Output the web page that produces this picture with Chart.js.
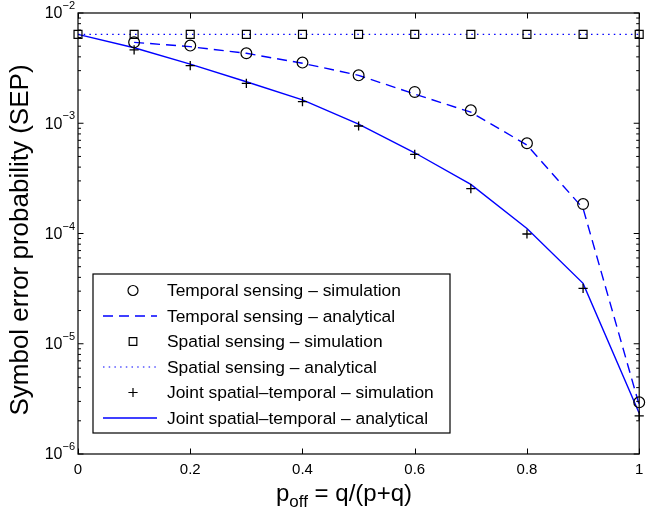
<!DOCTYPE html>
<html><head><meta charset="utf-8">
<script src="https://cdn.jsdelivr.net/npm/chart.js@4.4.0/dist/chart.umd.min.js"></script>
<style>html,body{margin:0;padding:0;background:#fff;}canvas{display:block;}</style>
</head><body>
<canvas id="c" width="646" height="516"></canvas>
<script>
const pOff = [0, 0.1, 0.2, 0.3, 0.4, 0.5, 0.6, 0.7, 0.8, 0.9, 1.0];
const temporalSim = [null, 5.42e-3, 5.06e-3, 4.31e-3, 3.55e-3, 2.72e-3, 1.92e-3, 1.31e-3, 6.58e-4, 1.85e-4, 2.94e-6];
const temporalAna = [null, 5.42e-3, 4.95e-3, 4.31e-3, 3.50e-3, 2.72e-3, 1.84e-3, 1.26e-3, 6.35e-4, 1.69e-4, 2.78e-6];
const spatialSim = [6.4e-3, 6.4e-3, 6.4e-3, 6.4e-3, 6.4e-3, 6.4e-3, 6.4e-3, 6.4e-3, 6.4e-3, 6.4e-3, 6.4e-3];
const spatialAna = [6.4e-3, 6.4e-3, 6.4e-3, 6.4e-3, 6.4e-3, 6.4e-3, 6.4e-3, 6.4e-3, 6.4e-3, 6.4e-3, 6.4e-3];
const jointSim = [null, 4.62e-3, 3.33e-3, 2.30e-3, 1.57e-3, 9.44e-4, 5.22e-4, 2.55e-4, 9.9e-5, 3.18e-5, 2.22e-6];
const jointAna = [6.4e-3, 4.84e-3, 3.44e-3, 2.38e-3, 1.63e-3, 9.8e-4, 5.4e-4, 2.79e-4, 1.11e-4, 3.53e-5, 2.34e-6];
const seriesLabels = [
  'Temporal sensing \u2013 simulation',
  'Temporal sensing \u2013 analytical',
  'Spatial sensing \u2013 simulation',
  'Spatial sensing \u2013 analytical',
  'Joint spatial\u2013temporal \u2013 simulation',
  'Joint spatial\u2013temporal \u2013 analytical'
];
const xTickValues = [0, 0.2, 0.4, 0.6, 0.8, 1];
const xTickLabels = ['0', '0.2', '0.4', '0.6', '0.8', '1'];
const yDecadeExps = [-6, -5, -4, -3, -2];
const yTitle = 'Symbol error probability (SEP)';
const xTitleMain = 'p';
const xTitleSub = 'off';
const xTitleRest = ' = q/(p+q)';

const FONT = '"Liberation Sans", Arial, Helvetica, sans-serif';
const BLUE = '#0000ff';

function pts(arr) { return pOff.map((x, i) => ({x: x, y: arr[i]})); }

const datasets = [
  {label: seriesLabels[0], data: pts(temporalSim), showLine: false, pointStyle: 'circle', pointRadius: 5.4, pointBorderColor: '#000', pointBackgroundColor: 'rgba(0,0,0,0)', pointBorderWidth: 1.2, order: 1},
  {label: seriesLabels[1], data: pts(temporalAna), showLine: true, borderColor: BLUE, borderWidth: 1.4, borderDash: [10, 6], pointRadius: 0, order: 4},
  {label: seriesLabels[2], data: pts(spatialSim), showLine: false, pointStyle: 'rect', pointRadius: 5.6, pointBorderColor: '#000', pointBackgroundColor: 'rgba(0,0,0,0)', pointBorderWidth: 1.2, order: 2},
  {label: seriesLabels[3], data: pts(spatialAna), showLine: true, borderColor: BLUE, borderWidth: 1.2, borderDash: [1.5, 4.2], pointRadius: 0, order: 5},
  {label: seriesLabels[4], data: pts(jointSim), showLine: false, pointStyle: 'cross', pointRadius: 4.6, pointBorderColor: '#000', pointBorderWidth: 1.3, order: 3},
  {label: seriesLabels[5], data: pts(jointAna), showLine: true, borderColor: BLUE, borderWidth: 1.4, pointRadius: 0, order: 6}
];
datasets.forEach(d => { d.clip = false; d.fill = false; d.tension = 0; d.spanGaps = false; });

function drawMarker(ctx, style, x, y, r) {
  ctx.save();
  ctx.strokeStyle = '#000';
  ctx.lineWidth = 1.2;
  ctx.beginPath();
  if (style === 'circle') { ctx.arc(x, y, r, 0, Math.PI * 2); }
  else if (style === 'rect') { const s = r * Math.SQRT1_2; ctx.rect(x - s, y - s, 2 * s, 2 * s); }
  else if (style === 'cross') { ctx.moveTo(x - r, y); ctx.lineTo(x + r, y); ctx.moveTo(x, y - r); ctx.lineTo(x, y + r); }
  ctx.stroke();
  ctx.restore();
}

const decor = {
  id: 'decor',
  afterDraw(chart) {
    const ctx = chart.ctx;
    const a = chart.chartArea;
    const xs = chart.scales.x, ys = chart.scales.y;
    ctx.save();
    ctx.strokeStyle = '#000';
    ctx.lineWidth = 1.2;
    ctx.strokeRect(a.left, a.top, a.right - a.left, a.bottom - a.top);
    ctx.lineWidth = 1;
    ctx.beginPath();
    xTickValues.forEach(v => {
      const px = Math.round(xs.getPixelForValue(v)) + 0.5;
      ctx.moveTo(px, a.bottom); ctx.lineTo(px, a.bottom - 5.5);
      ctx.moveTo(px, a.top); ctx.lineTo(px, a.top + 5.5);
    });
    yDecadeExps.forEach(e => {
      const py = ys.getPixelForValue(Math.pow(10, e));
      ctx.moveTo(a.left, py); ctx.lineTo(a.left + 5.5, py);
      ctx.moveTo(a.right, py); ctx.lineTo(a.right - 5.5, py);
      if (e < -2) {
        for (let m = 2; m <= 9; m++) {
          const pm = ys.getPixelForValue(m * Math.pow(10, e));
          ctx.moveTo(a.left, pm); ctx.lineTo(a.left + 3, pm);
          ctx.moveTo(a.right, pm); ctx.lineTo(a.right - 3, pm);
        }
      }
    });
    ctx.stroke();
    ctx.fillStyle = '#000';
    ctx.font = '15px ' + FONT;
    ctx.textAlign = 'center';
    ctx.textBaseline = 'middle';
    xTickValues.forEach((v, i) => {
      ctx.fillText(xTickLabels[i], xs.getPixelForValue(v), a.bottom + 16);
    });
    yDecadeExps.forEach(e => {
      const py = ys.getPixelForValue(Math.pow(10, e));
      const expTxt = '\u2212' + Math.abs(e);
      ctx.font = '11px ' + FONT;
      const ew = ctx.measureText(expTxt).width;
      ctx.textAlign = 'left';
      ctx.textBaseline = 'middle';
      const right = 75;
      ctx.fillText(expTxt, right - ew, py - 7);
      ctx.font = '16px ' + FONT;
      ctx.textAlign = 'right';
      ctx.fillText('10', right - ew, py + 1);
    });
    ctx.save();
    ctx.translate(21, 240);
    ctx.rotate(-Math.PI / 2);
    ctx.font = '26px ' + FONT;
    ctx.textAlign = 'center';
    ctx.textBaseline = 'middle';
    ctx.fillText(yTitle, 0, 0);
    ctx.restore();
    ctx.textAlign = 'left';
    ctx.textBaseline = 'alphabetic';
    ctx.font = '24px ' + FONT;
    const w1 = ctx.measureText(xTitleMain).width;
    ctx.font = '17px ' + FONT;
    const w2 = ctx.measureText(xTitleSub).width;
    ctx.font = '24px ' + FONT;
    const w3 = ctx.measureText(xTitleRest).width;
    const total = w1 + w2 + w3;
    let tx = 344 - total / 2;
    const base = 501;
    ctx.fillText(xTitleMain, tx, base);
    tx += w1;
    ctx.font = '17px ' + FONT;
    ctx.fillText(xTitleSub, tx, base + 6);
    tx += w2;
    ctx.font = '24px ' + FONT;
    ctx.fillText(xTitleRest, tx, base);
    const lx = 93, ly = 274, lw = 357, lh = 159;
    ctx.fillStyle = '#fff';
    ctx.fillRect(lx, ly, lw, lh);
    ctx.strokeStyle = '#000';
    ctx.lineWidth = 1.2;
    ctx.strokeRect(lx, ly, lw, lh);
    const rowY0 = 290.5, rowStep = 25.5;
    const symX = 133, lineX0 = 103, lineX1 = 157, textX = 167;
    chart.data.datasets.forEach((d, i) => {
      const ry = rowY0 + i * rowStep;
      if (d.showLine) {
        ctx.save();
        ctx.strokeStyle = d.borderColor;
        ctx.lineWidth = d.borderWidth;
        ctx.setLineDash(d.borderDash || []);
        ctx.beginPath();
        ctx.moveTo(lineX0, ry); ctx.lineTo(lineX1, ry);
        ctx.stroke();
        ctx.restore();
      } else {
        drawMarker(ctx, d.pointStyle, symX, ry, d.pointStyle === 'circle' ? 5 : (d.pointStyle === 'rect' ? 5.4 : 4.6));
      }
      ctx.fillStyle = '#000';
      ctx.font = '17.4px ' + FONT;
      ctx.textAlign = 'left';
      ctx.textBaseline = 'middle';
      ctx.fillText(d.label, textX, ry + 1);
    });
    ctx.restore();
  }
};

new Chart(document.getElementById('c'), {
  type: 'line',
  data: {datasets: datasets},
  options: {
    responsive: false,
    animation: false,
    layout: {padding: {left: 78, right: 5, top: 13, bottom: 62}},
    plugins: {legend: {display: false}, tooltip: {enabled: false}},
    scales: {
      x: {type: 'linear', min: 0, max: 1, ticks: {display: false}, grid: {display: false, drawTicks: false}, border: {display: false}},
      y: {type: 'logarithmic', min: 1e-6, max: 1e-2, ticks: {display: false}, grid: {display: false, drawTicks: false}, border: {display: false}}
    }
  },
  plugins: [decor]
});
</script>
</body></html>
